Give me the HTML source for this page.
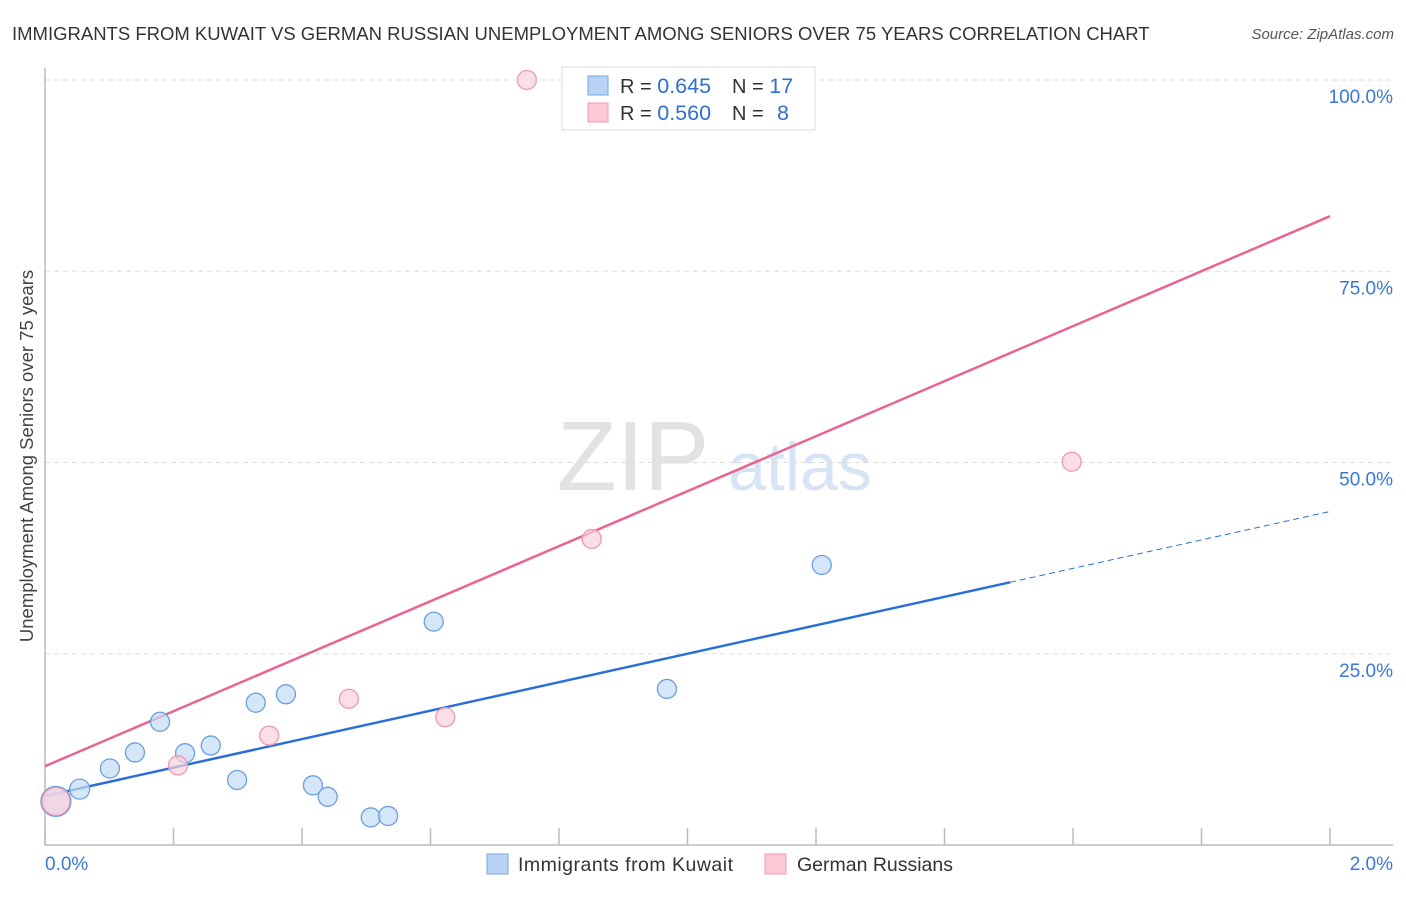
<!DOCTYPE html>
<html><head><meta charset="utf-8"><style>
body{margin:0;background:#fff;font-family:"Liberation Sans",sans-serif}
svg text{font-family:"Liberation Sans",sans-serif}
</style></head><body>
<svg id="c" width="1406" height="892" xmlns="http://www.w3.org/2000/svg">
<text x="12" y="40" font-size="18.5" fill="#333">IMMIGRANTS FROM KUWAIT VS GERMAN RUSSIAN UNEMPLOYMENT AMONG SENIORS OVER 75 YEARS CORRELATION CHART</text>
<text x="1394" y="39" font-size="15" fill="#555" font-style="italic" text-anchor="end">Source: ZipAtlas.com</text>
<text transform="translate(33,456) rotate(-90)" font-size="18.5" fill="#444" text-anchor="middle">Unemployment Among Seniors over 75 years</text>
<g>
<text x="633" y="490" font-size="98" font-family="Liberation Serif,serif" fill="#e2e2e2" text-anchor="middle">ZIP</text>
<text x="800" y="490" font-size="68" fill="#d6e4f5" text-anchor="middle">atlas</text>
</g>
<g id="grid"></g><g id="axes"></g><g id="lines"></g><g id="pts"></g>
<g>
<rect x="562" y="67" width="253" height="63" fill="#fff" stroke="#ddd"/>
<rect x="588" y="76" width="20" height="19" fill="#b8d3f4" stroke="#7aa7e0"/>
<rect x="588" y="103" width="20" height="19" fill="#fbc9d6" stroke="#ee9ab2"/>
<text x="620" y="93" font-size="20" fill="#333">R = <tspan fill="#2f6fd1" font-size="21.5">0.645</tspan><tspan x="732">N = </tspan><tspan fill="#2f6fd1" font-size="21.5">17</tspan></text>
<text x="620" y="120" font-size="20" fill="#333">R = <tspan fill="#2f6fd1" font-size="21.5">0.560</tspan><tspan x="732">N = </tspan><tspan x="777" fill="#2f6fd1" font-size="21.5">8</tspan></text>
</g>
<g>
<rect x="487" y="854" width="21" height="20" fill="#b8d3f4" stroke="#7aa7e0"/>
<text x="518" y="871" font-size="19.5" fill="#333" textLength="215">Immigrants from Kuwait</text>
<rect x="765" y="854" width="21" height="20" fill="#fbc9d6" stroke="#ee9ab2"/>
<text x="797" y="871" font-size="19.5" fill="#333" textLength="156">German Russians</text>
</g>
</svg>
<script>
const blueX=[0.017,0.054,0.101,0.140,0.179,0.218,0.258,0.299,0.328,0.375,0.417,0.440,0.507,0.534,0.605,0.968,1.209];
const blueY=[5.7,7.3,10.0,12.1,16.1,12.0,13.0,8.5,18.6,19.7,7.8,6.3,3.6,3.8,29.2,20.4,36.6];
const blueR=[15,10,9.5,9.5,9.5,9.5,9.5,9.5,9.5,9.5,9.5,9.5,9.5,9.5,9.5,9.5,9.5];
const pinkX=[0.017,0.207,0.349,0.473,0.623,0.851,1.598,0.750];
const pinkY=[5.7,10.4,14.3,19.1,16.7,40.0,50.1,100];
const pinkR=[14,9.5,9.5,9.5,9.5,9.5,9.5,9.5];
const blueLine=[6.4,18.6,1.502];
const pinkLine=[10.3,35.95];
const yTicks=[25,50,75,100];
const yLabels=["25.0%","50.0%","75.0%","100.0%"];
const xTicks=[0,0.2,0.4,0.6,0.8,1.0,1.2,1.4,1.6,1.8,2.0];
const NS="http://www.w3.org/2000/svg";
const sx=v=>45+v/2*1285, sy=v=>845-v/100*765;
function mk(t,a,p){const e=document.createElementNS(NS,t);for(const k in a)e.setAttribute(k,a[k]);p.appendChild(e);return e;}
const G=document.getElementById('grid'),A=document.getElementById('axes'),L=document.getElementById('lines'),P=document.getElementById('pts');
yTicks.forEach((v,i)=>{
 const g=mk('line',{x1:45,x2:1393,y1:sy(v),y2:sy(v),stroke:'#ddd','stroke-dasharray':'5,4'},G);
 
 
 const t=mk('text',{x:1393,y:sy(v)+23,'font-size':19,fill:'#3a78d4','text-anchor':'end'},G);
 t.textContent=yLabels[i];
 
 
});
const ax=mk('path',{d:'M45 68V845H1393',fill:'none',stroke:'#bbb','stroke-width':1.5},A);


xTicks.forEach(v=>{
 const t=mk('line',{x1:sx(v),x2:sx(v),y1:828,y2:845,stroke:'#bbb','stroke-width':1.5},A);
 
 
});
const xl0=mk('text',{x:45,y:870,'font-size':19,fill:'#3a78d4'},A);xl0.textContent='0.0%';


const xl1=mk('text',{x:1393,y:870,'font-size':19,fill:'#3a78d4','text-anchor':'end'},A);xl1.textContent='2.0%';


function pts(xs,ys,rs,fill,stroke,name){xs.forEach((x,i)=>{
 const c=mk('circle',{cx:sx(x),cy:sy(ys[i]),r:rs[i],fill:fill,stroke:stroke,'stroke-width':1.3,'fill-opacity':0.7},P);
 
 
});}
pts(blueX,blueY,blueR,'#c4dcf6','#6b9fe0','point-kuwait');
pts(pinkX,pinkY,pinkR,'#fbd0dc','#ec98b0','point-german-russian');
const bs=mk('line',{x1:sx(0),y1:sy(blueLine[0]),x2:sx(blueLine[2]),y2:sy(blueLine[0]+blueLine[1]*blueLine[2]),stroke:'#2a6fd6','stroke-width':2.5},L);


const bd=mk('line',{x1:sx(blueLine[2]),y1:sy(blueLine[0]+blueLine[1]*blueLine[2]),x2:sx(2),y2:sy(blueLine[0]+blueLine[1]*2),stroke:'#2a6fd6','stroke-width':1,'stroke-dasharray':'6,4'},L);


const pl=mk('line',{x1:sx(0),y1:sy(pinkLine[0]),x2:sx(2),y2:sy(pinkLine[0]+pinkLine[1]*2),stroke:'#e8658f','stroke-width':2.5},L);


</script>
</body></html>
